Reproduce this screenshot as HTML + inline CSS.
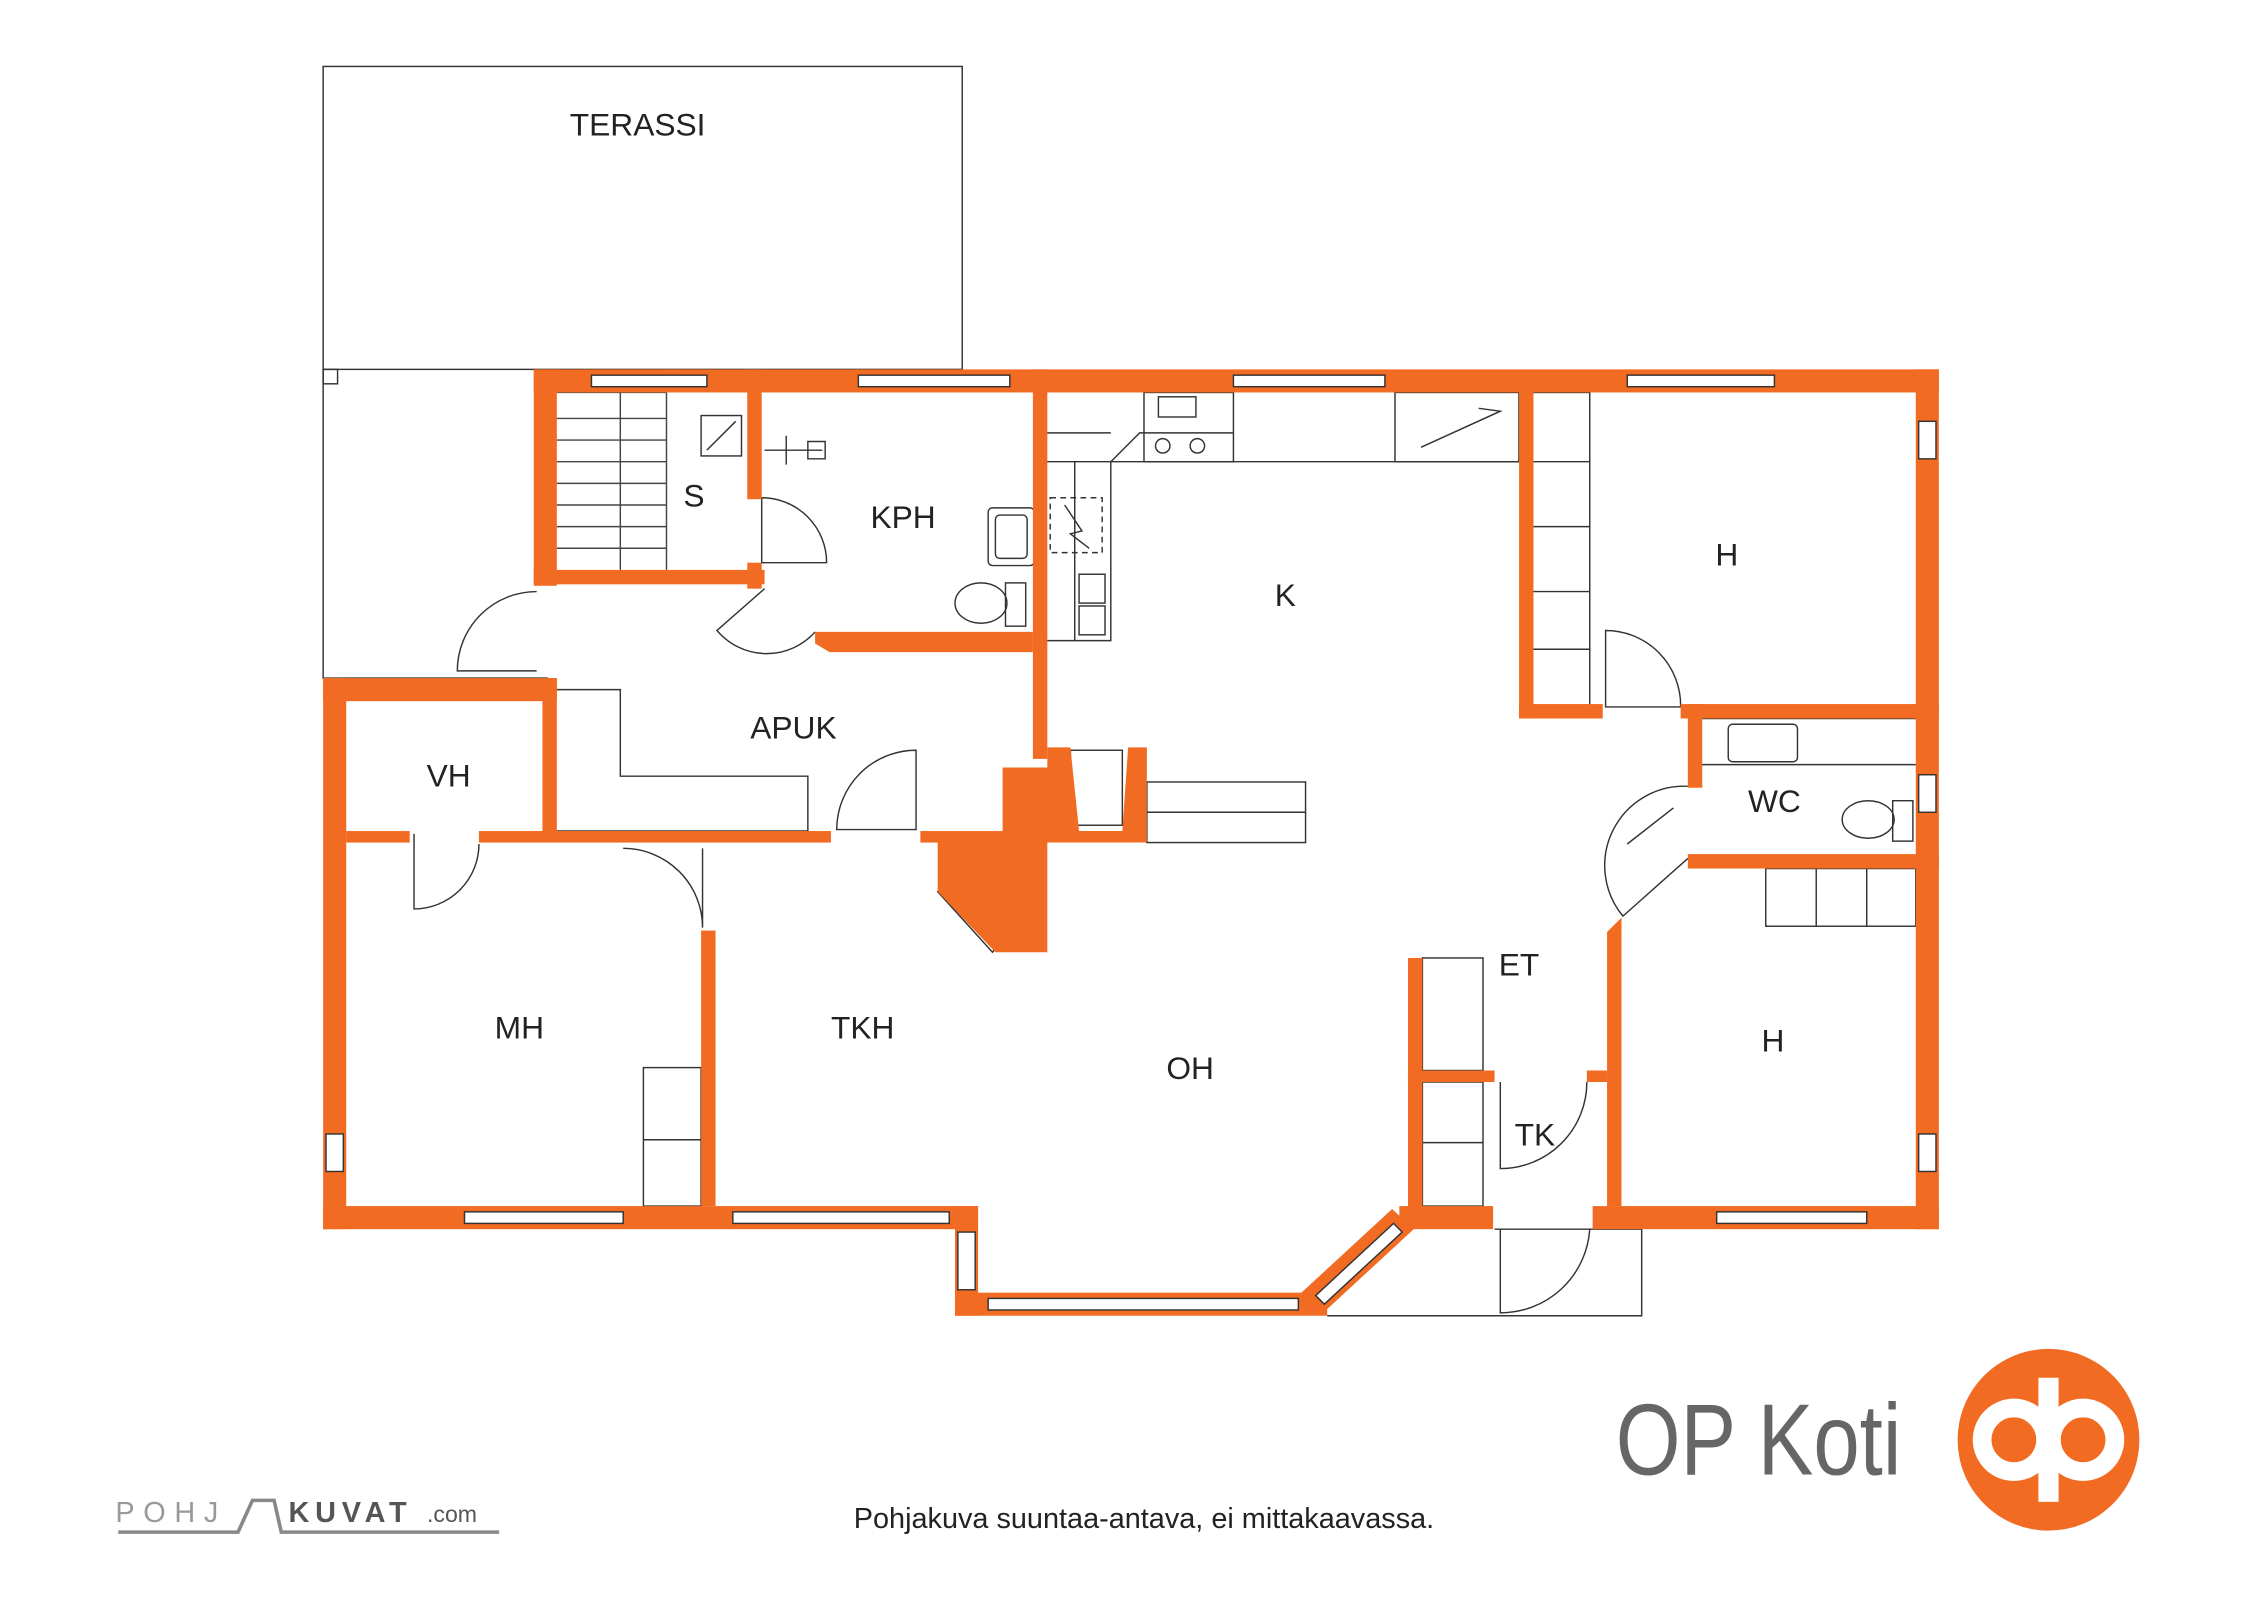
<!DOCTYPE html>
<html><head><meta charset="utf-8"><style>
html,body{margin:0;padding:0;background:#fff;}
svg{display:block}
text{font-family:"Liberation Sans",sans-serif;fill:#222}
</style></head><body>
<svg width="2262" height="1600" viewBox="0 0 1568 1109" xmlns="http://www.w3.org/2000/svg">
<g fill="none" stroke="#333" stroke-width="1">
<rect x="224" y="46" width="443" height="210"/>
<path d="M224 256 V470 H380"/>
<rect x="224" y="256" width="10" height="10"/>
<g stroke="#444">
<path d="M386 272 H462 V395"/>
<path d="M386 290 H462 M386 305 H462 M386 320 H462 M386 335 H462 M386 350 H462 M386 365 H462 M386 380 H462 M430 272 V395"/>
</g>
<rect x="486" y="288" width="28" height="28"/><path d="M490 312 L510 292"/>
<path d="M530 312 H570 M545 302 V322 M560 306 H572 V318 H560Z"/>
<rect x="685" y="352" width="32" height="40" rx="3"/><rect x="690" y="357" width="22" height="30" rx="3"/>
<ellipse cx="680" cy="418" rx="18" ry="14"/><rect x="697" y="404" width="14" height="30"/>
<path d="M528 345 A45 45 0 0 1 573 390 H528Z"/>
<path d="M530 408 L497 437 A45 45 0 0 0 565 438"/>
<path d="M372 410 A55 55 0 0 0 317 465 H372"/>
<path d="M635 520 A55 55 0 0 0 580 575 H635Z"/>
<path d="M287 578 V630 A45 45 0 0 0 332 585"/>
<path d="M432 588 A55 55 0 0 1 487 643 V588"/>
<path d="M1113 437 A52 52 0 0 1 1165 490 H1113Z"/>
<path d="M1170 545 A55 55 0 0 0 1125 635 L1170 595"/>
<path d="M1128 585 L1160 560"/>
<path d="M1040 750 V810 A60 60 0 0 0 1100 750"/>
<path d="M1040 852 V910 A62 62 0 0 0 1102 852"/>
<path d="M1036 852 H1138 V912 H920"/>
<path d="M386 478 H430 V538 H560 V576 H386"/>
<path d="M725 272 V444 H770 V320 H1053 V272"/>
<path d="M725 320 H770 M745 320 V444 M770 320 L790 300 H855 M725 300 L770 300"/>
<rect x="793" y="272" width="62" height="48"/><circle cx="806" cy="309" r="5"/><circle cx="830" cy="309" r="5"/>
<rect x="803" y="275" width="26" height="14"/>
<rect x="967" y="272" width="86" height="48"/><path d="M985 310 L1040 285 L1025 283"/>
<rect x="728" y="345" width="36" height="38" stroke-dasharray="4 3"/><path d="M738 350 L750 368 L742 370 L755 380"/>
<rect x="748" y="398" width="18" height="20"/><rect x="748" y="420" width="18" height="20"/>
<rect x="795" y="542" width="110" height="42"/><path d="M795 563 H905"/>
<rect x="742" y="520" width="36" height="52"/>
<rect x="1062" y="272" width="40" height="218"/>
<path d="M1062 320 H1102 M1062 365 H1102 M1062 410 H1102 M1062 450 H1102"/>
<path d="M1178 498 H1328 M1178 530 H1328 M1178 498 V530"/>
<rect x="1198" y="502" width="48" height="26" rx="3"/>
<ellipse cx="1295" cy="568" rx="18" ry="13"/><rect x="1312" y="555" width="14" height="28"/>
<rect x="1224" y="602" width="104" height="40"/><path d="M1259 602 V642 M1294 602 V642"/>
<rect x="446" y="740" width="40" height="96"/><path d="M446 790 H486"/>
<rect x="986" y="664" width="42" height="78"/>
<rect x="986" y="750" width="42" height="86"/><path d="M986 792 H1028"/>
<path d="M650 618 L688 660 L712 628 L680 600Z"/>
</g>
<g fill="#f26b22">
<rect x="370" y="256" width="974" height="16"/>
<rect x="1328" y="256" width="16" height="596"/>
<rect x="1104" y="836" width="240" height="16"/>
<rect x="224" y="470" width="16" height="382"/>
<rect x="224" y="836" width="454" height="16"/>
<rect x="662" y="836" width="16" height="76"/>
<rect x="662" y="896" width="258" height="16"/>
<polygon points="900,898 965,838 980,852 915,912"/>
<rect x="970" y="836" width="65" height="16"/>
<rect x="370" y="256" width="16" height="150"/>
<rect x="370" y="395" width="160" height="10"/>
<rect x="462" y="256" width="8" height="12"/>
<rect x="518" y="256" width="10" height="90"/>
<rect x="518" y="390" width="10" height="18"/>
<polygon points="565,438 716,438 716,452 575,452 565,446"/>
<rect x="716" y="256" width="10" height="270"/>
<rect x="224" y="470" width="162" height="16"/>
<rect x="376" y="470" width="10" height="110"/>
<rect x="240" y="576" width="44" height="8"/>
<rect x="332" y="576" width="244" height="8"/>
<rect x="638" y="576" width="60" height="8"/>
<rect x="486" y="645" width="10" height="191"/>
<polygon points="695,532 726,532 726,518 742,518 748,576 778,576 782,518 795,518 795,584 726,584 726,660 690,660 650,618 650,578 695,578"/>
<rect x="1053" y="272" width="10" height="226"/>
<rect x="1053" y="488" width="58" height="10"/>
<rect x="1165" y="488" width="179" height="10"/>
<rect x="1170" y="488" width="10" height="58"/>
<rect x="1170" y="592" width="174" height="10"/>
<polygon points="1114,646 1124,636 1124,836 1114,836"/>
<rect x="976" y="664" width="10" height="180"/>
<rect x="976" y="742" width="60" height="8"/>
<rect x="1100" y="742" width="14" height="8"/>
</g>
<g fill="#fff" stroke="#333" stroke-width="1">
<rect x="410" y="260" width="80" height="8"/>
<rect x="595" y="260" width="105" height="8"/>
<rect x="855" y="260" width="105" height="8"/>
<rect x="1128" y="260" width="102" height="8"/>
<rect x="1330" y="292" width="12" height="26"/>
<rect x="1330" y="537" width="12" height="26"/>
<rect x="1330" y="786" width="12" height="26"/>
<rect x="1190" y="840" width="104" height="8"/>
<rect x="226" y="786" width="12" height="26"/>
<rect x="322" y="840" width="110" height="8"/>
<rect x="508" y="840" width="150" height="8"/>
<rect x="664" y="854" width="12" height="40"/>
<rect x="685" y="900" width="215" height="8"/>
<polygon points="912,898 966,848 972,854 918,904"/>
</g>
<g font-size="22" text-anchor="middle">
<text x="442" y="94">TERASSI</text>
<text x="481" y="351">S</text>
<text x="626" y="366">KPH</text>
<text x="891" y="420">K</text>
<text x="1197" y="392">H</text>
<text x="550" y="512">APUK</text>
<text x="311" y="545">VH</text>
<text x="1230" y="563">WC</text>
<text x="1053" y="676">ET</text>
<text x="360" y="720">MH</text>
<text x="598" y="720">TKH</text>
<text x="825" y="748">OH</text>
<text x="1229" y="729">H</text>
<text x="1064" y="794">TK</text>
</g>
<text x="793" y="1059" font-size="20" text-anchor="middle">Pohjakuva suuntaa-antava, ei mittakaavassa.</text>
<text x="1120" y="1022" font-size="70" fill="#666" style="fill:#666" textLength="198" lengthAdjust="spacingAndGlyphs">OP Koti</text>
<circle cx="1420" cy="998" r="63" fill="#f26b22"/>
<g fill="none" stroke="#fff" stroke-width="13">
<circle cx="1396" cy="998" r="22"/><circle cx="1444" cy="998" r="22"/>
</g>
<rect x="1413" y="955" width="14" height="86" fill="#fff"/>
<text x="80" y="1055" font-size="20" style="fill:#999" letter-spacing="6">POHJ</text>
<path d="M82 1062 H165 L175 1040 H190 L195 1062 H346" fill="none" stroke="#888" stroke-width="2.5"/>
<text x="200" y="1055" font-size="20" font-weight="bold" style="fill:#555" letter-spacing="4">KUVAT</text>
<text x="296" y="1055" font-size="16" style="fill:#555">.com</text>
</svg>
</body></html>
